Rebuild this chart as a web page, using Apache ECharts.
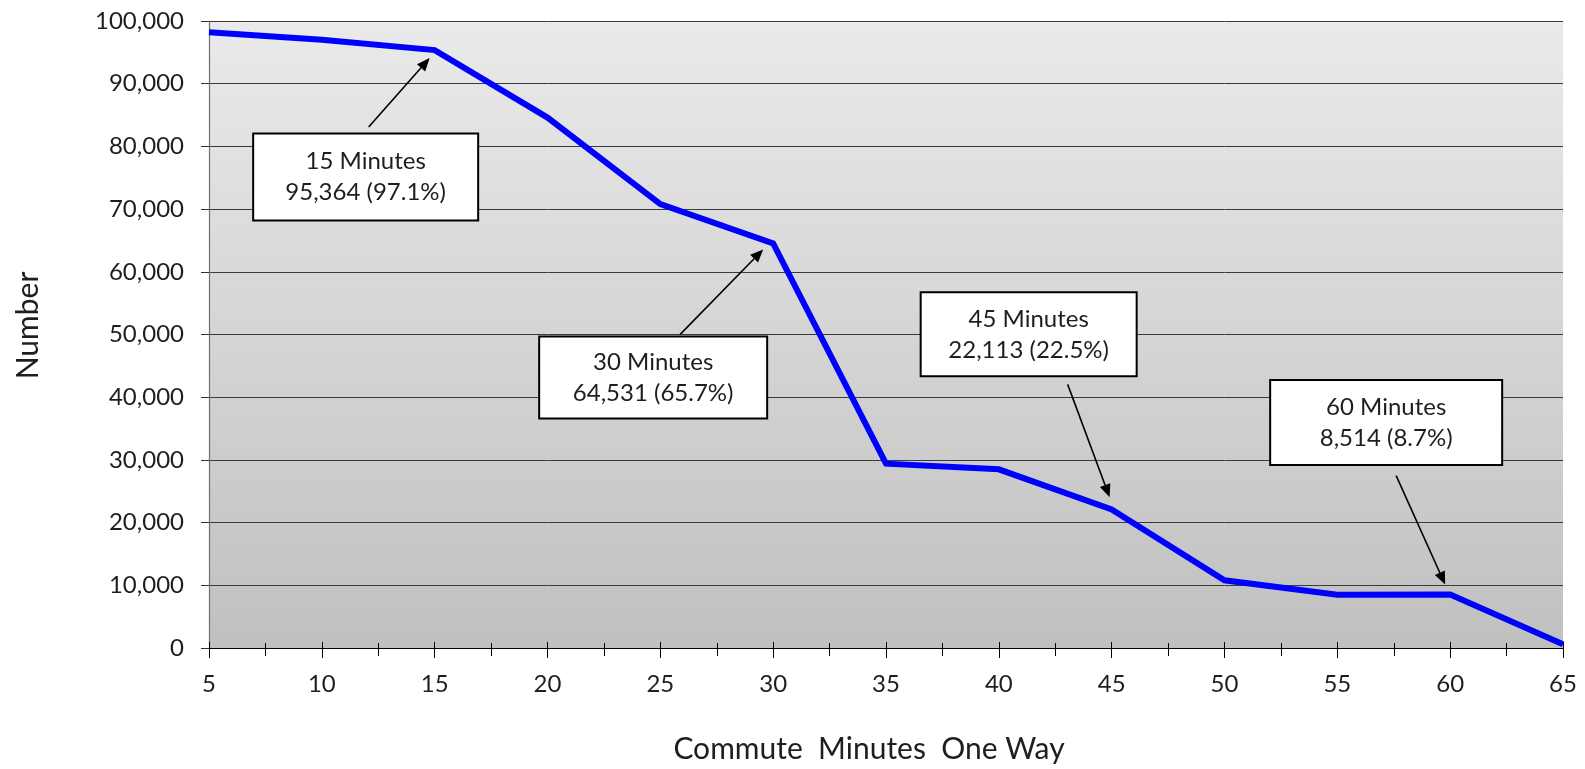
<!DOCTYPE html>
<html>
<head>
<meta charset="utf-8">
<title>Commute Minutes One Way</title>
<script src="https://cdn.jsdelivr.net/npm/echarts@6/dist/echarts.min.js"></script>
<style>
  html, body { margin: 0; padding: 0; background: #ffffff; }
  #chart { width: 1585px; height: 769px; }
</style>
</head>
<body>
<div id="chart"></div>
<script>
// Commute length (minutes, one way) and number of commuters at each step
const minutes = [5, 10, 15, 20, 25, 30, 35, 40, 45, 50, 55, 60, 65];
const commuters = [98200, 97000, 95364, 84600, 70800, 64531, 29400, 28500, 22113, 10800, 8500, 8514, 600];

// Steps that get a callout box
const calloutMinutes = [15, 30, 45, 60];

// Axis tick values
const xTicks = { min: 5, max: 65, step: 5 };
const yTicks = { min: 0, max: 100000, step: 10000 };

const FONT = 'Lato, "Open Sans", sans-serif';
const TEXT_COLOR = '#1e1e1e';

// Callout layout, in pixels relative to the data point it describes
const calloutLayout = {
  15: { box: [-69, 127], size: [225, 87], from: [-66, 77], to: [-5, 8] },
  30: { box: [-120, 134], size: [228, 82], from: [-93, 91], to: [-10, 6] },
  45: { box: [-83, -175], size: [216, 84], from: [-44, -125], to: [-2, -12] },
  60: { box: [-64, -172], size: [232, 85], from: [-54, -119], to: [-5, -10] }
};

const fmt = v => v.toLocaleString('en-US');
const seriesData = minutes.map((m, i) => [m, commuters[i]]);
const base = commuters[0];

const chart = echarts.init(document.getElementById('chart'), null, { renderer: 'canvas' });

chart.setOption({
  animation: false,
  backgroundColor: '#ffffff',
  grid: {
    left: 209, right: 22, top: 21, bottom: 121,
    show: true,
    borderWidth: 0,
    backgroundColor: {
      type: 'linear', x: 0, y: 0, x2: 0, y2: 1,
      colorStops: [
        { offset: 0, color: '#eaeaea' },
        { offset: 1, color: '#c0c0c0' }
      ]
    }
  },
  xAxis: [
    {
      type: 'value',
      min: xTicks.min, max: xTicks.max, interval: xTicks.step,
      name: 'Commute  Minutes  One Way',
      nameLocation: 'middle',
      nameGap: 86,
      nameTextStyle: { fontFamily: FONT, fontSize: 30, color: TEXT_COLOR, padding: [0, 34, 0, 0] },
      axisLine: { show: true, lineStyle: { color: '#000000', width: 1.2 } },
      axisTick: { show: true, inside: false, length: 10, lineStyle: { color: '#000000', width: 1 } },
      minorTick: { show: true, splitNumber: 2, length: 8, lineStyle: { color: '#000000', width: 1 } },
      axisLabel: { fontFamily: FONT, fontSize: 24, color: TEXT_COLOR, margin: 24 },
      splitLine: { show: false }
    },
    {
      // upper half of the crossing tick marks
      type: 'value',
      position: 'bottom',
      min: xTicks.min, max: xTicks.max, interval: xTicks.step,
      axisLine: { show: false },
      axisTick: { show: true, inside: true, length: 6, lineStyle: { color: '#000000', width: 1 } },
      minorTick: { show: true, splitNumber: 2, length: 5, lineStyle: { color: '#000000', width: 1 } },
      axisLabel: { show: false },
      splitLine: { show: false }
    }
  ],
  yAxis: {
    type: 'value',
    min: yTicks.min, max: yTicks.max, interval: yTicks.step,
    name: 'Number',
    nameLocation: 'middle',
    nameGap: 166,
    nameRotate: 90,
    nameTextStyle: { fontFamily: FONT, fontSize: 30, color: TEXT_COLOR, padding: [0, 0, 0, 18] },
    axisLine: { show: true, lineStyle: { color: '#707070', width: 1.2 } },
    axisTick: { show: true, inside: false, length: 8, lineStyle: { color: '#333333', width: 1 } },
    axisLabel: { fontFamily: FONT, fontSize: 24, color: TEXT_COLOR, margin: 25, formatter: v => fmt(v) },
    splitLine: { show: true, lineStyle: { color: '#3a3a3a', width: 1 } }
  },
  series: [{
    type: 'line',
    xAxisIndex: 0,
    data: seriesData,
    symbol: 'none',
    lineStyle: { color: '#0000ff', width: 6, join: 'miter' },
    z: 3
  }]
});

// Callout boxes with arrows pointing at their data points
function drawCallouts() {
  const elements = [];
  calloutMinutes.forEach(m => {
    const idx = minutes.indexOf(m);
    const value = commuters[idx];
    const p = chart.convertToPixel({ seriesIndex: 0 }, [m, value]);
    const L = calloutLayout[m];
    const cx = p[0] + L.box[0], cy = p[1] + L.box[1];
    const w = L.size[0], h = L.size[1];
    const pct = (value / base * 100).toFixed(1);

    elements.push({
      type: 'rect',
      shape: { x: cx - w / 2, y: cy - h / 2, width: w, height: h },
      style: { fill: '#ffffff', stroke: '#000000', lineWidth: 2 },
      z: 10
    });
    elements.push({
      type: 'text',
      x: cx, y: cy,
      style: {
        text: m + ' Minutes\n' + fmt(value) + ' (' + pct + '%)',
        align: 'center', verticalAlign: 'middle',
        font: '24px ' + FONT, lineHeight: 31, fill: TEXT_COLOR
      },
      z: 11
    });

    const x1 = p[0] + L.from[0], y1 = p[1] + L.from[1];
    const x2 = p[0] + L.to[0], y2 = p[1] + L.to[1];
    const ang = Math.atan2(y2 - y1, x2 - x1);
    const headLen = 13, headHalf = 5.5;
    const bx = x2 - headLen * Math.cos(ang), by = y2 - headLen * Math.sin(ang);
    const nx = -Math.sin(ang), ny = Math.cos(ang);
    elements.push({
      type: 'line',
      shape: { x1: x1, y1: y1, x2: bx, y2: by },
      style: { stroke: '#000000', lineWidth: 1.6 },
      z: 10
    });
    elements.push({
      type: 'polygon',
      shape: { points: [[x2, y2], [bx + nx * headHalf, by + ny * headHalf], [bx - nx * headHalf, by - ny * headHalf]] },
      style: { fill: '#000000' },
      z: 10
    });
  });
  chart.setOption({ graphic: { elements: elements } });
}
drawCallouts();
</script>
</body>
</html>
